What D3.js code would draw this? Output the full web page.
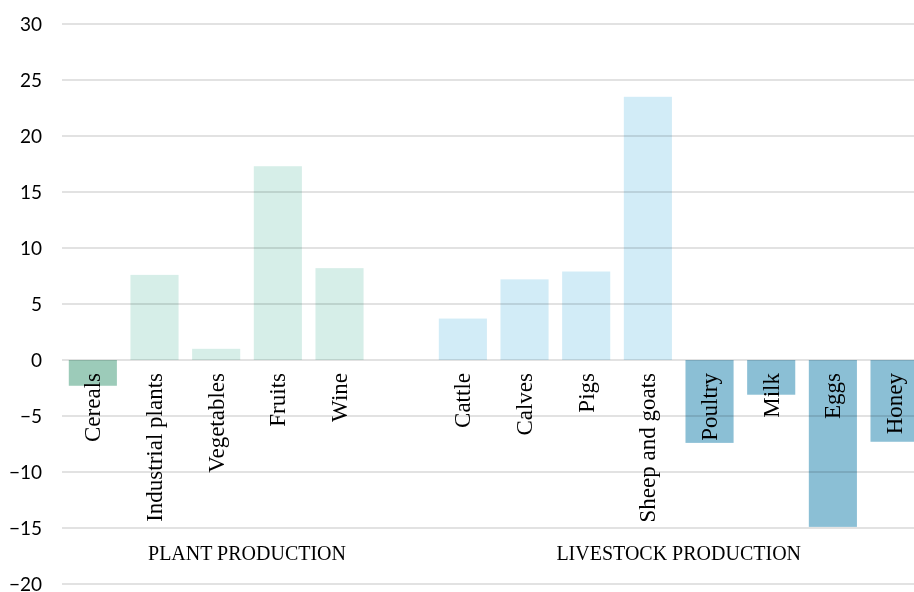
<!DOCTYPE html>
<html>
<head>
<meta charset="utf-8">
<script src="https://cdn.jsdelivr.net/npm/d3@7"></script>
<style>
  html, body { margin: 0; padding: 0; background: #ffffff; }
  svg { display: block; }
</style>
</head>
<body>
<svg id="chart" width="914" height="592"></svg>
<script>
// ---- Data ----
const plantCategories = ["Cereals", "Industrial plants", "Vegetables", "Fruits", "Wine"];
const plantValues = [-2.3, 7.6, 1.0, 17.3, 8.2];
const livestockCategories = ["Cattle", "Calves", "Pigs", "Sheep and goats", "Poultry", "Milk", "Eggs", "Honey"];
const livestockValues = [3.7, 7.2, 7.9, 23.5, -7.4, -3.1, -14.9, -7.3];
const groupLabels = ["PLANT PRODUCTION", "LIVESTOCK PRODUCTION"];
const yTicks = [30, 25, 20, 15, 10, 5, 0, -5, -10, -15, -20];

// ---- Build table ----
const GAP = "__gap__";
const rows = [];
plantCategories.forEach((c, i) => rows.push({ cat: c, value: plantValues[i], group: 0 }));
livestockCategories.forEach((c, i) => rows.push({ cat: c, value: livestockValues[i], group: 1 }));
const domain = [...plantCategories, GAP, ...livestockCategories];

const svg = d3.select("#chart");
const left = 62, slot = 61.67;
const x = d3.scaleBand().domain(domain).range([left, left + slot * domain.length]).paddingInner(0.22).paddingOuter(0.11);
const y = d3.scaleLinear().domain([-20, 30]).range([584, 24]);

const colors = {
  "0pos": "#d6eee8", "0neg": "#9ccbb9",
  "1pos": "#d2ecf7", "1neg": "#8bbfd5"
};

// gridlines
svg.append("g").selectAll("line").data(yTicks).join("line")
  .attr("x1", left).attr("x2", 914)
  .attr("y1", d => y(d)).attr("y2", d => y(d))
  .attr("stroke", "#d9d9d9").attr("stroke-width", 1.3);

// y axis labels
const yAxis = d3.axisLeft(y).tickValues(yTicks).tickSize(0).tickPadding(0);
const ya = svg.append("g").attr("transform", "translate(42,0)").call(yAxis);
ya.select(".domain").remove();
ya.selectAll("text")
  .attr("font-family", "Lato, 'Open Sans', sans-serif")
  .attr("font-size", 19)
  .attr("fill", "#000")
  .attr("dy", "0.33em");

// bars
svg.append("g").selectAll("rect").data(rows).join("rect")
  .attr("x", d => x(d.cat))
  .attr("width", x.bandwidth())
  .attr("y", d => y(Math.max(0, d.value)))
  .attr("height", d => Math.abs(y(d.value) - y(0)))
  .attr("fill", d => colors[d.group + (d.value >= 0 ? "pos" : "neg")])
  .style("mix-blend-mode", "multiply");

// category labels
svg.append("g").selectAll("text").data(rows).join("text")
  .attr("transform", d => `translate(${x(d.cat) + x.bandwidth() / 2},${y(0) + 13}) rotate(-90)`)
  .attr("text-anchor", "end")
  .attr("dy", "0.33em")
  .attr("font-family", "'Liberation Serif', serif")
  .attr("font-size", 23)
  .attr("fill", "#000")
  .text(d => d.cat);

// group labels
const groupSpans = [
  [x.step() * 0, x.step() * (plantCategories.length + 1)],
  [x.step() * (plantCategories.length + 1), x.step() * domain.length]
];
svg.append("g").selectAll("text").data(groupLabels).join("text")
  .attr("x", (d, i) => left + (groupSpans[i][0] + groupSpans[i][1]) / 2)
  .attr("y", y(-17.2))
  .attr("dy", "0.35em")
  .attr("text-anchor", "middle")
  .attr("font-family", "'Liberation Serif', serif")
  .attr("font-size", 20)
  .attr("fill", "#000")
  .text(d => d);
</script>
</body>
</html>
